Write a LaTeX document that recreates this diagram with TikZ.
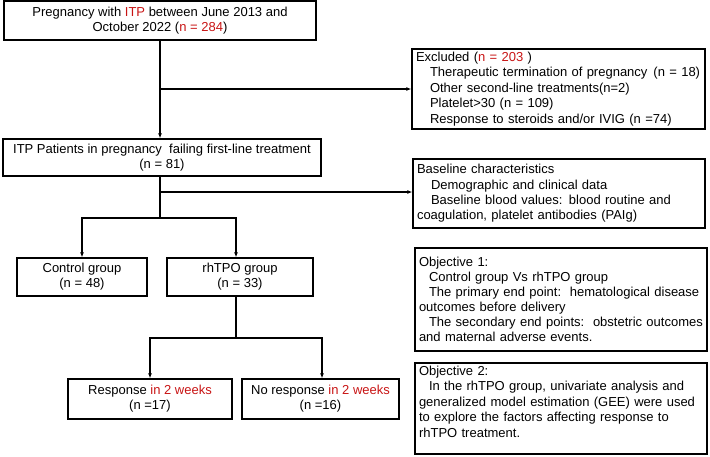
\documentclass[tikz,border=0pt]{standalone}
\usepackage{fontspec}
\setmainfont{Liberation Sans}
\usetikzlibrary{arrows.meta,calc}
\definecolor{itpred}{RGB}{200,20,20}
\tikzset{
  box/.style={draw, line width=1.3pt, inner sep=0pt, font=\fontsize{13}{15}\selectfont, align=center},
  lbox/.style={draw, line width=1.3pt, inner xsep=4pt, inner ysep=0pt, font=\fontsize{13}{15}\selectfont, align=left},
  conn/.style={line width=1.2pt},
  arr/.style={line width=1.2pt, -{Latex[length=5pt,width=4pt]}}
}
\newcommand{\rd}[1]{{\color{itpred}#1}}
\newcommand{\ind}{\hspace*{14pt}}
\begin{document}
\begin{tikzpicture}[x=1pt,y=-1pt]
\useasboundingbox (0,0) rectangle (710,456);
% left column
\node[box, minimum width=312pt, minimum height=39pt] (top) at (160,20.5)
  {Pregnancy with \rd{ITP} between June 2013 and\\ October 2022 (\rd{n = 284})};
\node[box, minimum width=318pt, minimum height=37pt] (itp) at (162,157.5)
  {ITP Patients in pregnancy\ \ failing first-line treatment\\ (n = 81)};
\node[box, minimum width=130pt, minimum height=38pt] (ctrl) at (82,277)
  {Control group\\ (n = 48)};
\node[box, minimum width=146pt, minimum height=38pt] (rh) at (240,277)
  {rhTPO group\\ (n = 33)};
\node[box, minimum width=164pt, minimum height=40pt] (resp) at (150,399)
  {Response \rd{in 2 weeks}\\ (n =17)};
\node[box, minimum width=157pt, minimum height=40pt] (nresp) at (320.5,399)
  {No response \rd{in 2 weeks}\\ (n =16)};
% right column
\node[lbox, text width=285pt, minimum height=80pt, inner ysep=2pt, font=\fontsize{13}{15.5}\selectfont] (excl) at (558.5,89)
  {Excluded (\rd{n = 203} )\\
   \ind\mbox{Therapeutic termination of pregnancy\hspace{6pt}(n = 18)}\\
   \ind Other second-line treatments(n=2)\\
   \ind Platelet>30 (n = 109)\\
   \ind Response to steroids and/or IVIG (n =74)};
\node[lbox, text width=284pt, minimum height=69pt, font=\fontsize{13}{15.3}\selectfont] (base) at (559,193.5)
  {Baseline characteristics\\
   \ind Demographic and clinical data\\
   \ind Baseline blood values: blood routine and\\
   coagulation, platelet antibodies (PAIg)};
\node[lbox, text width=284pt, minimum height=103pt] (obj1) at (561,299.5)
  {Objective 1:\\
   \hspace*{10pt}Control group Vs rhTPO group\\
   \hspace*{10pt}The primary end point:\ \ hematological disease\\
   outcomes before delivery\\
   \hspace*{10pt}The secondary end points:\ \ obstetric outcomes\\
   and maternal adverse events.};
\node[lbox, text width=284pt, minimum height=91pt, font=\fontsize{13}{15.5}\selectfont] (obj2) at (561,408.5)
  {Objective 2:\\
   \hspace*{10pt}In the rhTPO group, univariate analysis and\\
   generalized model estimation (GEE) were used\\
   to explore the factors affecting response to\\
   rhTPO treatment.\rule[-14pt]{0pt}{14pt}};
% connectors
\coordinate (b1) at (160,89);
\coordinate (b2) at (160,192);
\coordinate (b3) at (160,218);
\coordinate (rhs) at (236,296);
\coordinate (b4) at (236,338);
\draw[arr] (top.south) -- (top.south |- itp.north);
\draw[arr] (b1) -- (b1 -| excl.west);
\draw[conn] (itp.south -| b3) -- (b3);
\draw[arr] (b2) -- (b2 -| base.west);
\draw[arr] (b3) -| (ctrl.north);
\draw[arr] (b3) -| (rhs |- rh.north);
\draw[conn] (rhs) -- (b4);
\draw[arr] (b4) -| (resp.north);
\draw[arr] (b4) -| ([xshift=1.5pt]nresp.north);
\end{tikzpicture}
\end{document}
